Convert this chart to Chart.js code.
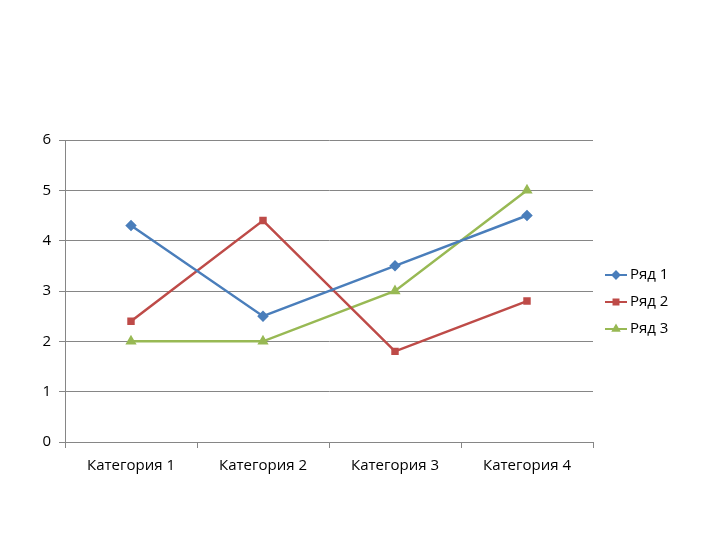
<!DOCTYPE html>
<html>
<head>
<meta charset="utf-8">
<script src="https://cdn.jsdelivr.net/npm/chart.js@4"></script>
<style>
  html, body { margin: 0; padding: 0; background: #fff; }
  #wrap { width: 720px; height: 540px; }
</style>
</head>
<body>
<div id="wrap"><canvas id="chart" width="720" height="540"></canvas></div>
<script>
/* ===================== DATA ===================== */

const categories = ["Категория 1", "Категория 2", "Категория 3", "Категория 4"];
const seriesNames = ["Ряд 1", "Ряд 2", "Ряд 3"];
const row1 = [4.3, 2.5, 3.5, 4.5];
const row2 = [2.4, 4.4, 1.8, 2.8];
const row3 = [2, 2, 3, 5];
const colors = ["#4a7ebb", "#be4b48", "#98b954"];
const markers = ["rectRot", "rect", "triangle"];

const FONT = "'Open Sans', 'DejaVu Sans', sans-serif";

/* ===================== LEGEND ===================== */

const sideLegend = {
  id: "sideLegend",
  afterDraw(chart) {
    const ctx = chart.ctx;
    const x0 = 605, y0 = 275, step = 27;
    ctx.save();
    chart.data.datasets.forEach((ds, i) => {
      const y = y0 + i * step;
      ctx.strokeStyle = ds.borderColor;
      ctx.lineWidth = 2;
      ctx.beginPath();
      ctx.moveTo(x0, y);
      ctx.lineTo(x0 + 22, y);
      ctx.stroke();
      Chart.helpers.drawPoint(ctx, {
        pointStyle: ds.pointStyle, radius: 3.5, borderWidth: 1
      }, x0 + 11, y);
      ctx.fillStyle = ds.borderColor;
      ctx.fill();
      ctx.fillStyle = "#000";
      ctx.font = "15px " + FONT;
      ctx.textBaseline = "middle";
      ctx.fillText(seriesNames[i], x0 + 25, y);
    });
    ctx.restore();
  }
};

/* ===================== CHART ===================== */

const mk = (data, i) => ({
  label: seriesNames[i],
  data,
  borderColor: colors[i],
  backgroundColor: colors[i],
  borderWidth: 2.5,
  pointStyle: markers[i],
  pointRadius: markers[i] === "rect" ? 3.5 : 4,
  tension: 0
});

new Chart(document.getElementById("chart"), {
  type: "line",
  data: {
    labels: categories,
    datasets: [mk(row1, 0), mk(row2, 1), mk(row3, 2)]
  },
  options: {
    responsive: false,
    animation: false,
    layout: { padding: { top: 140, right: 127, bottom: 58, left: 0 } },
    plugins: { legend: { display: false }, tooltip: { enabled: false } },
    scales: {
      x: {
        offset: true,
        afterFit: s => { s.height = 40; },
        grid: { offset: true, drawOnChartArea: false, color: "#868686", tickLength: 6 },
        border: { color: "#868686" },
        ticks: { color: "#000", font: { family: FONT, size: 15 }, padding: 9 }
      },
      y: {
        min: 0, max: 6,
        afterFit: s => { s.width = 65; },
        grid: { color: "#868686", tickLength: 6 },
        border: { color: "#868686" },
        ticks: { stepSize: 1, color: "#000", font: { family: FONT, size: 15 }, padding: 8 }
      }
    }
  },
  plugins: [sideLegend]
});
</script>
</body>
</html>
